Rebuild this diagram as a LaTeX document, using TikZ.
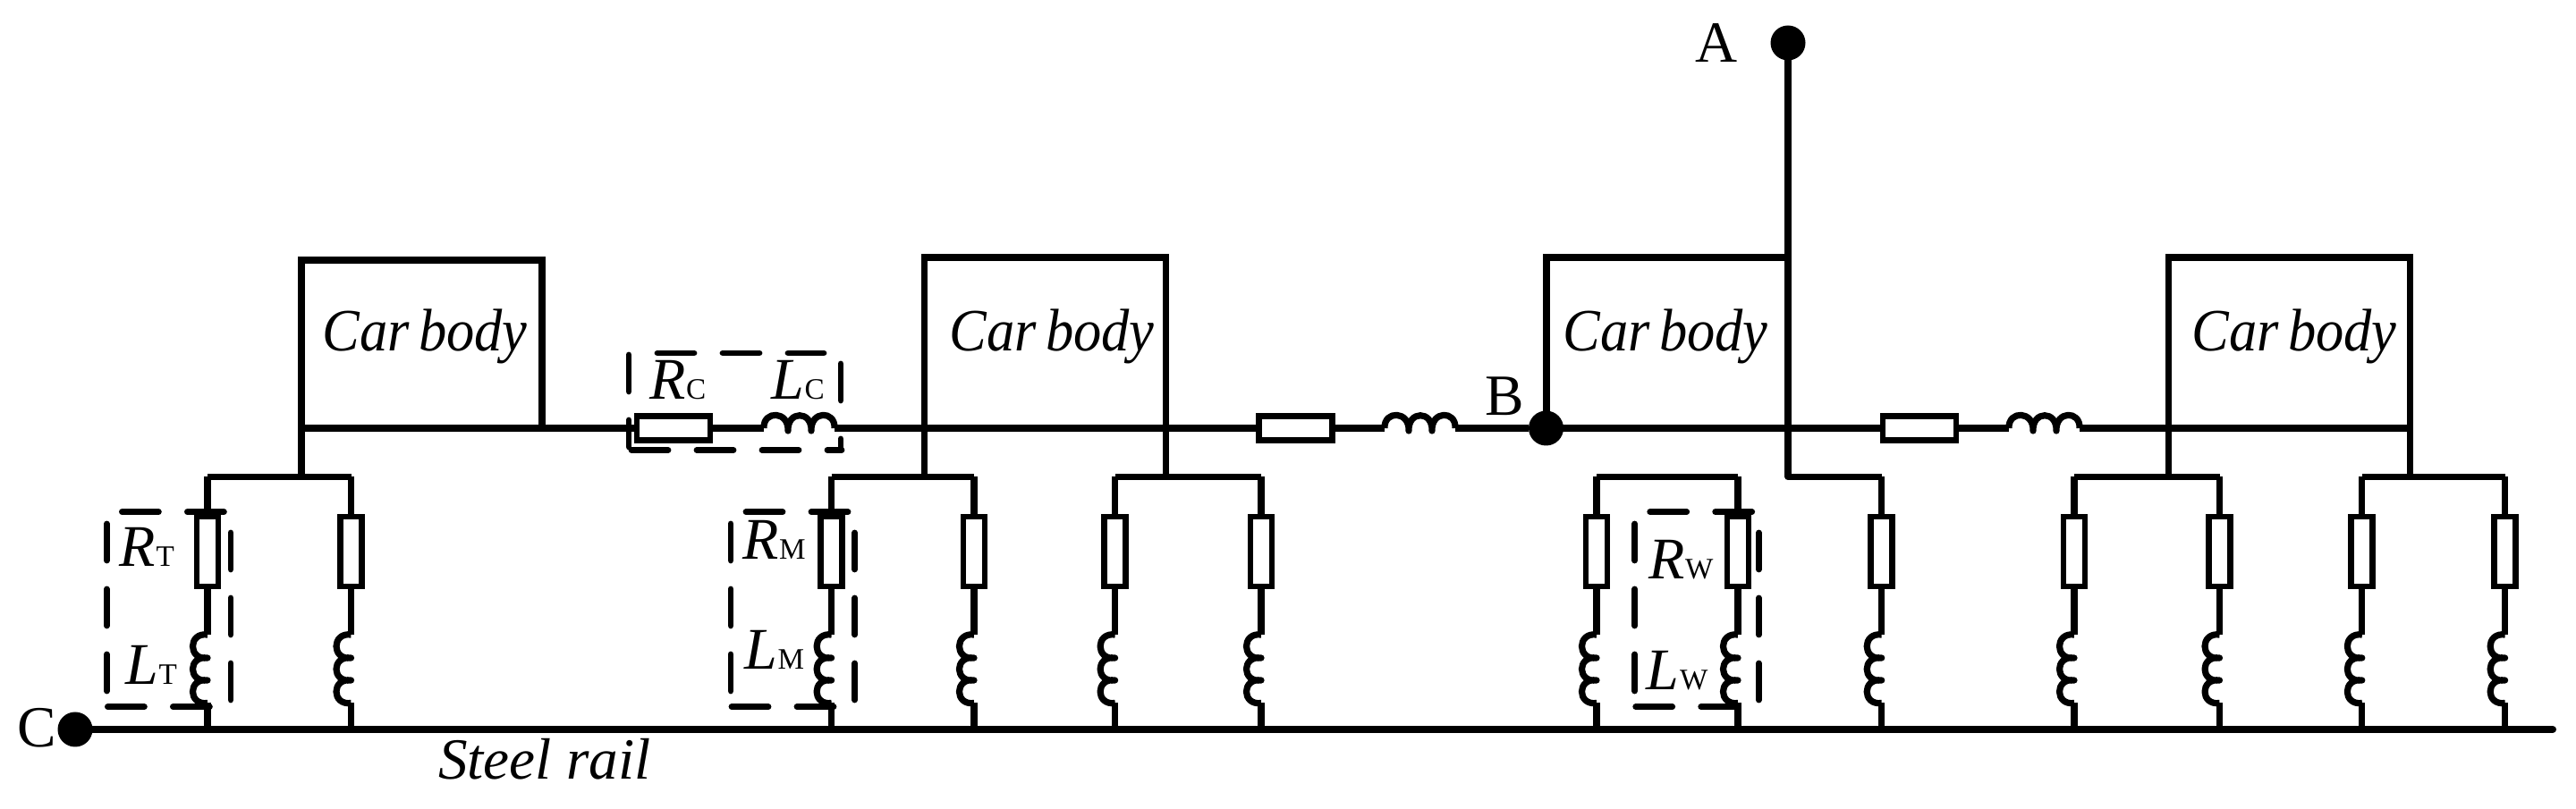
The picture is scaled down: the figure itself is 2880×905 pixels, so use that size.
\documentclass[tikz,border=0pt]{standalone}
\usepackage{fontspec}
\usepackage{graphicx}
\setmainfont{Liberation Serif}
\tikzset{
  wire/.style={line width=1.8pt,line join=round,black},
  thick wire/.style={line width=2pt,line join=round,black},
  resv/.style={draw,line width=1.7pt,rectangle,inner sep=0pt,outer sep=0pt,minimum width=6pt,minimum height=19.5pt},
  resh/.style={draw,line width=1.7pt,rectangle,inner sep=0pt,outer sep=0pt,minimum width=20.5pt,minimum height=6.9pt},
  carbox/.style={draw,line width=1.8pt,rectangle,inner sep=0pt,outer sep=0pt,minimum width=67.5pt,minimum height=47.75pt},
  dotnode/.style={circle,fill=black,inner sep=0pt,outer sep=0pt,minimum size=9.75pt},
  dsh/.style={line width=1.7pt,line cap=round,dash pattern=on 10.25pt off 8pt},
  txt/.style={anchor=base west,inner sep=0pt,outer sep=0pt,font=\fontsize{16.5pt}{18pt}\selectfont},
  bigtxt/.style={anchor=base west,inner sep=0pt,outer sep=0pt,font=\fontsize{16.3pt}{18pt}\selectfont},
}
\newcommand{\legunit}[2]{%
  \node[resv] (r#1) at (#2,617) {};
  \coordinate (t#1) at (#2,533.5);
  \coordinate (a#1) at (#2,710);
  \coordinate (b#1) at (#2,786.5);
  \coordinate (g#1) at (#2,816);
  \draw[wire] (t#1) -- (r#1.north) (r#1.south) -- (a#1) (b#1) -- (g#1);
  \draw[wire] (a#1) .. controls ({#2-22},707) and ({#2-22},739) .. (#2,736)
    .. controls ({#2-22},733) and ({#2-22},764) .. (#2,761)
    .. controls ({#2-22},758) and ({#2-22},789.5) .. (b#1);
}
\newcommand{\hcoil}[2]{%
  \coordinate (#1a) at (#2,479);
  \coordinate (#1b) at ({#2+79},479);
  \draw[wire] (#1a) .. controls ({#2-1},459) and ({#2+28},459) .. ({#2+27},482)
    .. controls ({#2+26},459) and ({#2+54},459) .. ({#2+53},482)
    .. controls ({#2+52},459) and ({#2+80},459) .. (#1b);
}
\newcommand{\dbox}[1]{%
  \draw[dsh] ({#1+17},572.6) -- ({#1+131},572.6);
  \draw[dsh] (#1,586) -- (#1,775);
  \draw[dsh] ({#1+1},790.7) -- ({#1+115},790.7);
  \draw[dsh] ({#1+138.6},596) -- ({#1+138.6},784);
}
\newcommand{\sublbl}[2]{\textit{#1}\kern0.2pt{\fontsize{8.3pt}{9pt}\selectfont #2}}
\newcommand{\carlbl}{\scalebox{0.93}[1]{\fontsize{16.8pt}{18pt}\selectfont\textit{Car\kern-1.5pt\ body}}}
\begin{document}
\begin{tikzpicture}[x=0.25pt,y=-0.25pt]
\useasboundingbox (0,0) rectangle (2880,905);

% car bodies
\node[carbox,minimum width=67.25pt,minimum height=47pt] (c1) at (471.5,385) {};
\node[carbox] (c2) at (1168.5,383.5) {};
\node[carbox] (c3) at (1864,383.5) {};
\node[carbox] (c4) at (2559.6,383.5) {};
\node[anchor=base west,inner sep=0pt] (tc1) at (360,392.5) {\carlbl};
\node[anchor=base west,inner sep=0pt] (tc2) at (1061,392.5) {\carlbl};
\node[anchor=base west,inner sep=0pt] (tc3) at (1747,392.5) {\carlbl};
\node[anchor=base west,inner sep=0pt] (tc4) at (2450,392.5) {\carlbl};

% terminals
\node[dotnode] (dA) at (1999,48) {};
\node[dotnode] (dB) at (1728.5,479) {};
\node[dotnode] (dC) at (84,816) {};
\coordinate (railend) at (2854,816);
\draw[thick wire,line cap=round] (dC.center) -- (railend);

% series elements on the bus
\node[resh] (s1) at (753,479) {};
\node[resh] (s2) at (1448.5,479) {};
\node[resh] (s3) at (2146,479) {};
\hcoil{h1}{854}
\hcoil{h2}{1548}
\hcoil{h3}{2246}
\draw[wire] (c1.south west) -- (s1.west) (s1.east) -- (h1a) (h1b) -- (s2.west) (s2.east) -- (h2a) (h2b) -- (dB) (dB) -- (s3.west) (s3.east) -- (h3a) (h3b) -- (c4.south east);

% legs
\legunit{1}{232}
\legunit{2}{392.5}
\legunit{3}{929.6}
\legunit{4}{1089}
\legunit{5}{1246.6}
\legunit{6}{1410}
\legunit{7}{1785}
\legunit{8}{1943}
\legunit{9}{2103.7}
\legunit{10}{2319}
\legunit{11}{2481.5}
\legunit{12}{2640.8}
\legunit{13}{2800.6}

% branches and drops
\coordinate (d1) at (337,533.5);
\coordinate (d2) at (1033.5,533.5);
\coordinate (d3) at (1303.5,533.5);
\coordinate (d4) at (1999,533.5);
\coordinate (d5) at (2424.6,533.5);
\coordinate (d6) at (2694.6,533.5);
\draw[wire] (t1) -- (t2) (c1.south west) -- (d1);
\draw[wire] (t3) -- (t4) (c2.south west) -- (d2);
\draw[wire] (t5) -- (t6) (c2.south east) -- (d3);
\draw[wire] (t7) -- (t8);
\draw[wire] (dA.center) -- (d4) -- (t9);
\draw[wire] (t10) -- (t11) (c4.south west) -- (d5);
\draw[wire] (t12) -- (t13) (c4.south east) -- (d6);

% dashed groups
\dbox{119.4}
\dbox{817}
\dbox{1827.7}
\draw[dsh] (735,395) -- (921,395);
\draw[dsh] (703,397) -- (703,500);
\draw[dsh] (706,503.5) -- (941,503.5);
\draw[dsh,dash pattern=on 41pt off 37pt] (940,407) -- (940,448);
\draw[dsh] (940,491) -- (940,501);

% labels
\node[txt] (lrc) at (726,447) {\sublbl{R}{C}};
\node[txt] (llc) at (862,447) {\sublbl{L}{C}};
\node[txt] (lrt) at (133.5,633.6) {\sublbl{R}{T}};
\node[txt] (llt) at (140,766) {\sublbl{L}{T}};
\node[txt] (lrm) at (830,626) {\sublbl{R}{M}};
\node[txt] (llm) at (832,749) {\sublbl{L}{M}};
\node[txt] (lrw) at (1843,647.5) {\sublbl{R}{W}};
\node[txt] (llw) at (1840.6,772) {\sublbl{L}{W}};
\node[bigtxt] (la) at (1895,70) {A};
\node[bigtxt] (lb) at (1660,464.5) {B};
\node[bigtxt] (lcc) at (19.6,836) {C};
\node[bigtxt] (lsr) at (490,872) {\textit{Steel rail}};
\end{tikzpicture}
\end{document}
